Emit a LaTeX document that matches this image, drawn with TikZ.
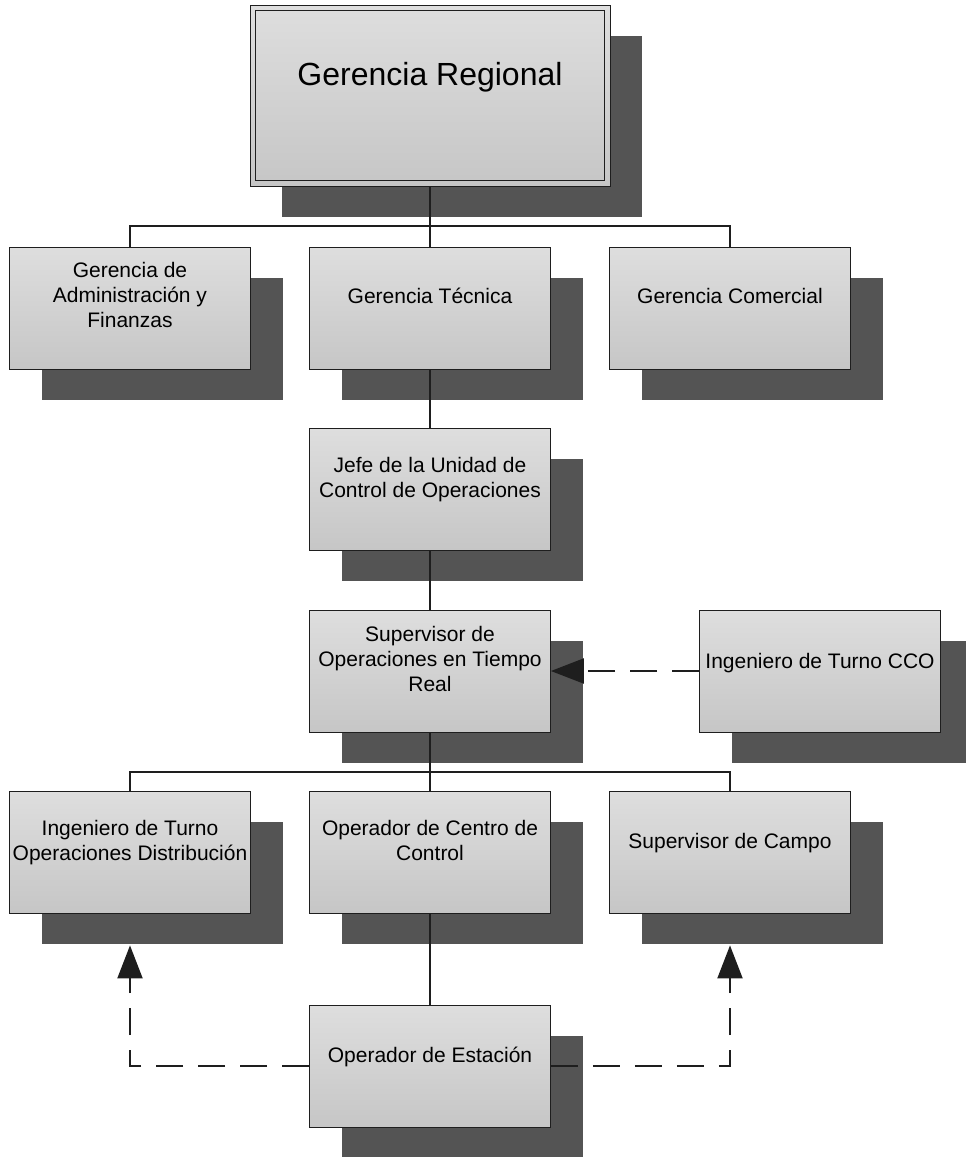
\documentclass[tikz,border=0pt]{standalone}
\usepackage{fontspec}
\setmainfont{Liberation Sans}
\usetikzlibrary{shadows,arrows.meta,calc}
\definecolor{shadowc}{RGB}{84,84,84}
\definecolor{boxtop}{RGB}{222,222,222}
\definecolor{boxbot}{RGB}{198,198,198}
\definecolor{linec}{RGB}{30,30,30}
\begin{document}
\begin{tikzpicture}[x=1pt,y=-1pt,
  boxbase/.style={draw=linec, line width=0.8pt, top color=boxtop, bottom color=boxbot,
    minimum width=241pt, minimum height=122pt, inner sep=0pt},
  orgbox/.style={boxbase, drop shadow={shadow xshift=32pt, shadow yshift=-31pt, fill=shadowc, opacity=1}},
  lbl/.style={font=\fontsize{21}{25}\selectfont, align=center, anchor=base, inner sep=0pt},
  biglbl/.style={font=\fontsize{32}{38}\selectfont, anchor=base, inner sep=0pt},
  conn/.style={draw=linec, line width=2pt},
  dconn/.style={draw=linec, line width=2pt, dash pattern=on 27pt off 15pt,
    -{Triangle[length=33pt,width=25pt]}},
]
\useasboundingbox (0,0) rectangle (966,1157);

% boxes
\node[orgbox, minimum width=360pt, minimum height=181pt] (top) at (430,95.5) {};
\draw[linec, line width=0.8pt] ($(top.north west)+(6,6)$) rectangle ($(top.south east)+(-6,-6)$);

\node[orgbox] (adm) at (130,308) {};
\node[orgbox] (tec) at (430,308) {};
\node[orgbox] (com) at (730,308) {};
\node[orgbox] (jefe) at (430,489) {};
\node[orgbox] (sup) at (430,671) {};
\node[orgbox] (cco) at (820,671) {};
\node[orgbox] (ing) at (130,852) {};
\node[orgbox] (opc) at (430,852) {};
\node[orgbox] (campo) at (730,852) {};
\node[orgbox] (est) at (430,1066) {};

% labels (base = baseline of the last line)
\node[biglbl] (ttop) at (430,85) {Gerencia Regional};
\node[lbl] (tadm) at (130,327) {Gerencia de\\Administración y\\Finanzas};
\node[lbl] (ttec) at (430,303) {Gerencia Técnica};
\node[lbl] (tcom) at (730,303) {Gerencia Comercial};
\node[lbl] (tjefe) at (430,497) {Jefe de la Unidad de\\Control de Operaciones};
\node[lbl] (tsup) at (430,691) {Supervisor de\\Operaciones en Tiempo\\Real};
\node[lbl] (tcco) at (820,668) {Ingeniero de Turno CCO};
\node[lbl] (ting) at (130,860) {Ingeniero de Turno\\Operaciones Distribución};
\node[lbl] (topc) at (430,860) {Operador de Centro de\\Control};
\node[lbl] (tcampo) at (730,848) {Supervisor de Campo};
\node[lbl] (test) at (430,1062) {Operador de Estación};

% connectors
\coordinate (bus1) at (430,226);
\coordinate (bus2) at (430,772);
\draw[conn] (top.south) -- (tec.north);
\draw[conn] (adm.north) |- (bus1) -| (com.north);
\draw[conn] (tec.south) -- (jefe.north);
\draw[conn] (jefe.south) -- (sup.north);
\draw[conn] (sup.south) -- (opc.north);
\draw[conn] (ing.north) |- (bus2) -| (campo.north);
\draw[conn] (opc.south) -- (est.north);

\draw[dconn] (cco.west) -- (sup.east);
\coordinate (tipL) at ($(ing.south)+(0,32)$);
\coordinate (tipR) at ($(campo.south)+(0,32)$);
\draw[dconn] (est.west) -| (tipL);
\draw[dconn] (est.east) -| (tipR);
\end{tikzpicture}
\end{document}
